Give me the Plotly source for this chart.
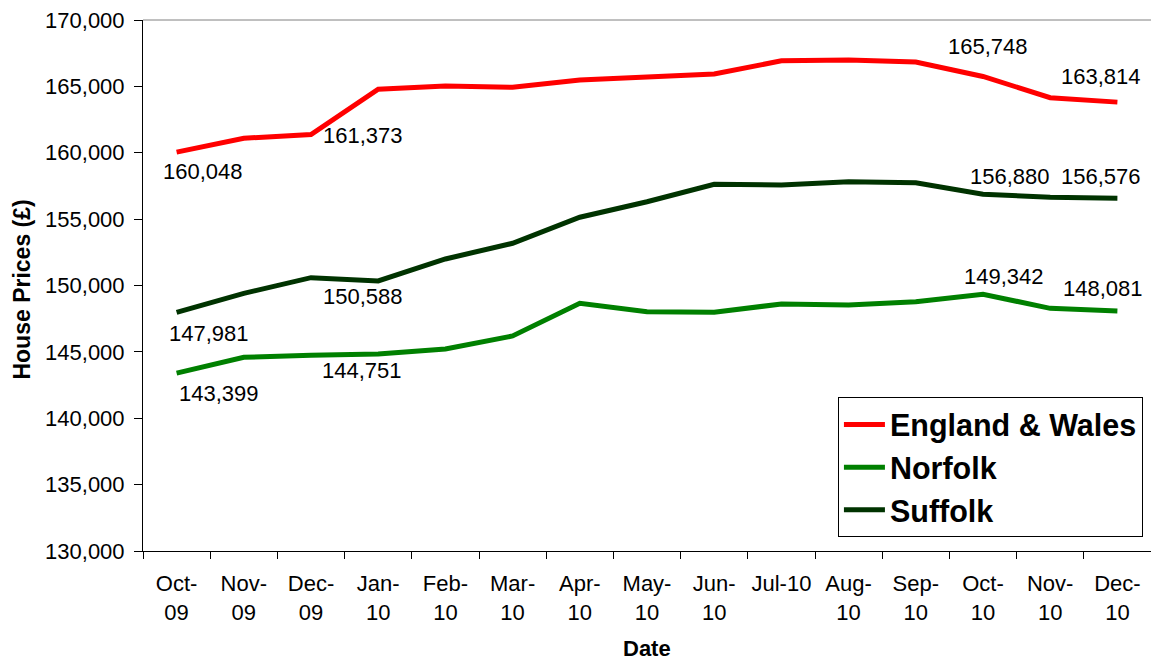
import plotly.graph_objects as go

categories = ["Oct-09", "Nov-09", "Dec-09", "Jan-10", "Feb-10", "Mar-10", "Apr-10",
              "May-10", "Jun-10", "Jul-10", "Aug-10", "Sep-10", "Oct-10", "Nov-10", "Dec-10"]
tick_labels = ["Oct-<br>09", "Nov-<br>09", "Dec-<br>09", "Jan-<br>10", "Feb-<br>10", "Mar-<br>10",
               "Apr-<br>10", "May-<br>10", "Jun-<br>10", "Jul-10", "Aug-<br>10", "Sep-<br>10",
               "Oct-<br>10", "Nov-<br>10", "Dec-<br>10"]

england_wales = [160048, 161090, 161373, 164780, 165030, 164930, 165480, 165730, 165930,
                 166930, 166990, 166840, 165748, 164150, 163814]
norfolk = [143399, 144590, 144751, 144840, 145220, 146200, 148660, 148030, 147980,
           148610, 148530, 148780, 149342, 148280, 148081]
suffolk = [147981, 149410, 150588, 150340, 152000, 153180, 155140, 156310, 157620,
           157570, 157820, 157740, 156880, 156640, 156576]

series_names = ["England & Wales", "Norfolk", "Suffolk"]
series_values = [england_wales, norfolk, suffolk]
series_colors = ["#FF0000", "#008000", "#003300"]

# labelled points: (series index, category index, xshift, yshift)
label_points = [
    (0, 0, 26, -19), (0, 2, 52, -1), (0, 12, 5, 30), (0, 14, -16, 26),
    (2, 0, 32, -21), (2, 2, 52, -19), (2, 12, 27, 18), (2, 14, -16, 22),
    (1, 0, 42, -20), (1, 2, 51, -15), (1, 12, 21, 18), (1, 14, -14, 22),
]

FONT = "Liberation Sans, Arial, Helvetica, sans-serif"

fig = go.Figure()
for name, vals, col in zip(series_names, series_values, series_colors):
    fig.add_trace(go.Scatter(x=categories, y=vals, mode="lines", name=name,
                             line=dict(color=col, width=5)))

annotations = []
for s, i, dx, dy in label_points:
    v = series_values[s][i]
    annotations.append(dict(x=categories[i], y=v, xref="x", yref="y",
                            text=f"{v:,}", showarrow=False, xanchor="center", yanchor="middle",
                            xshift=dx, yshift=dy, font=dict(size=22, color="black", family=FONT)))

annotations.append(dict(x=0.5, y=-0.183, xref="paper", yref="paper", text="<b>Date</b>",
                        showarrow=False, xanchor="center", yanchor="middle",
                        font=dict(size=22, color="black", family=FONT)))
annotations.append(dict(x=-0.1205, y=0.4915, xref="paper", yref="paper",
                        text="<b>House Prices (£)</b>", textangle=-90,
                        showarrow=False, xanchor="center", yanchor="middle",
                        font=dict(size=23, color="black", family=FONT)))

fig.update_layout(
    width=1151, height=660,
    margin=dict(l=143, r=0, t=20, b=109, autoexpand=False),
    paper_bgcolor="white", plot_bgcolor="white",
    font=dict(family=FONT, size=22, color="black"),
    showlegend=True,
    legend=dict(x=0.992, y=0.026, xanchor="right", yanchor="bottom",
                bordercolor="black", borderwidth=1, bgcolor="white", itemwidth=41,
                font=dict(size=30.5, family=FONT, color="black", weight="bold")),
    annotations=annotations,
    shapes=[dict(type="line", xref="paper", yref="paper", x0=0, x1=1, y0=1, y1=1,
                 line=dict(color="#808080", width=1))],
)
fig.update_xaxes(type="category", tickvals=categories, ticktext=tick_labels,
                 tickson="boundaries", ticks="outside", ticklen=7, tickcolor="black",
                 tickangle=0, automargin=False,
                 showline=True, linecolor="black", linewidth=1, showgrid=False,
                 zeroline=False, tickfont=dict(size=22, color="black", family=FONT),
                 ticklabelstandoff=13, range=[-0.5, 14.5])
fig.update_yaxes(range=[130000, 170000], dtick=5000, tickformat=",d",
                 ticks="outside", ticklen=8, tickcolor="black", automargin=False,
                 showline=True, linecolor="black", linewidth=1, showgrid=False,
                 zeroline=False, tickfont=dict(size=22, color="black", family=FONT),
                 ticklabelstandoff=5)

fig.write_html("out.html", config={"displayModeBar": False},
               post_script="document.body.style.margin='0';document.body.style.overflow='hidden';")
